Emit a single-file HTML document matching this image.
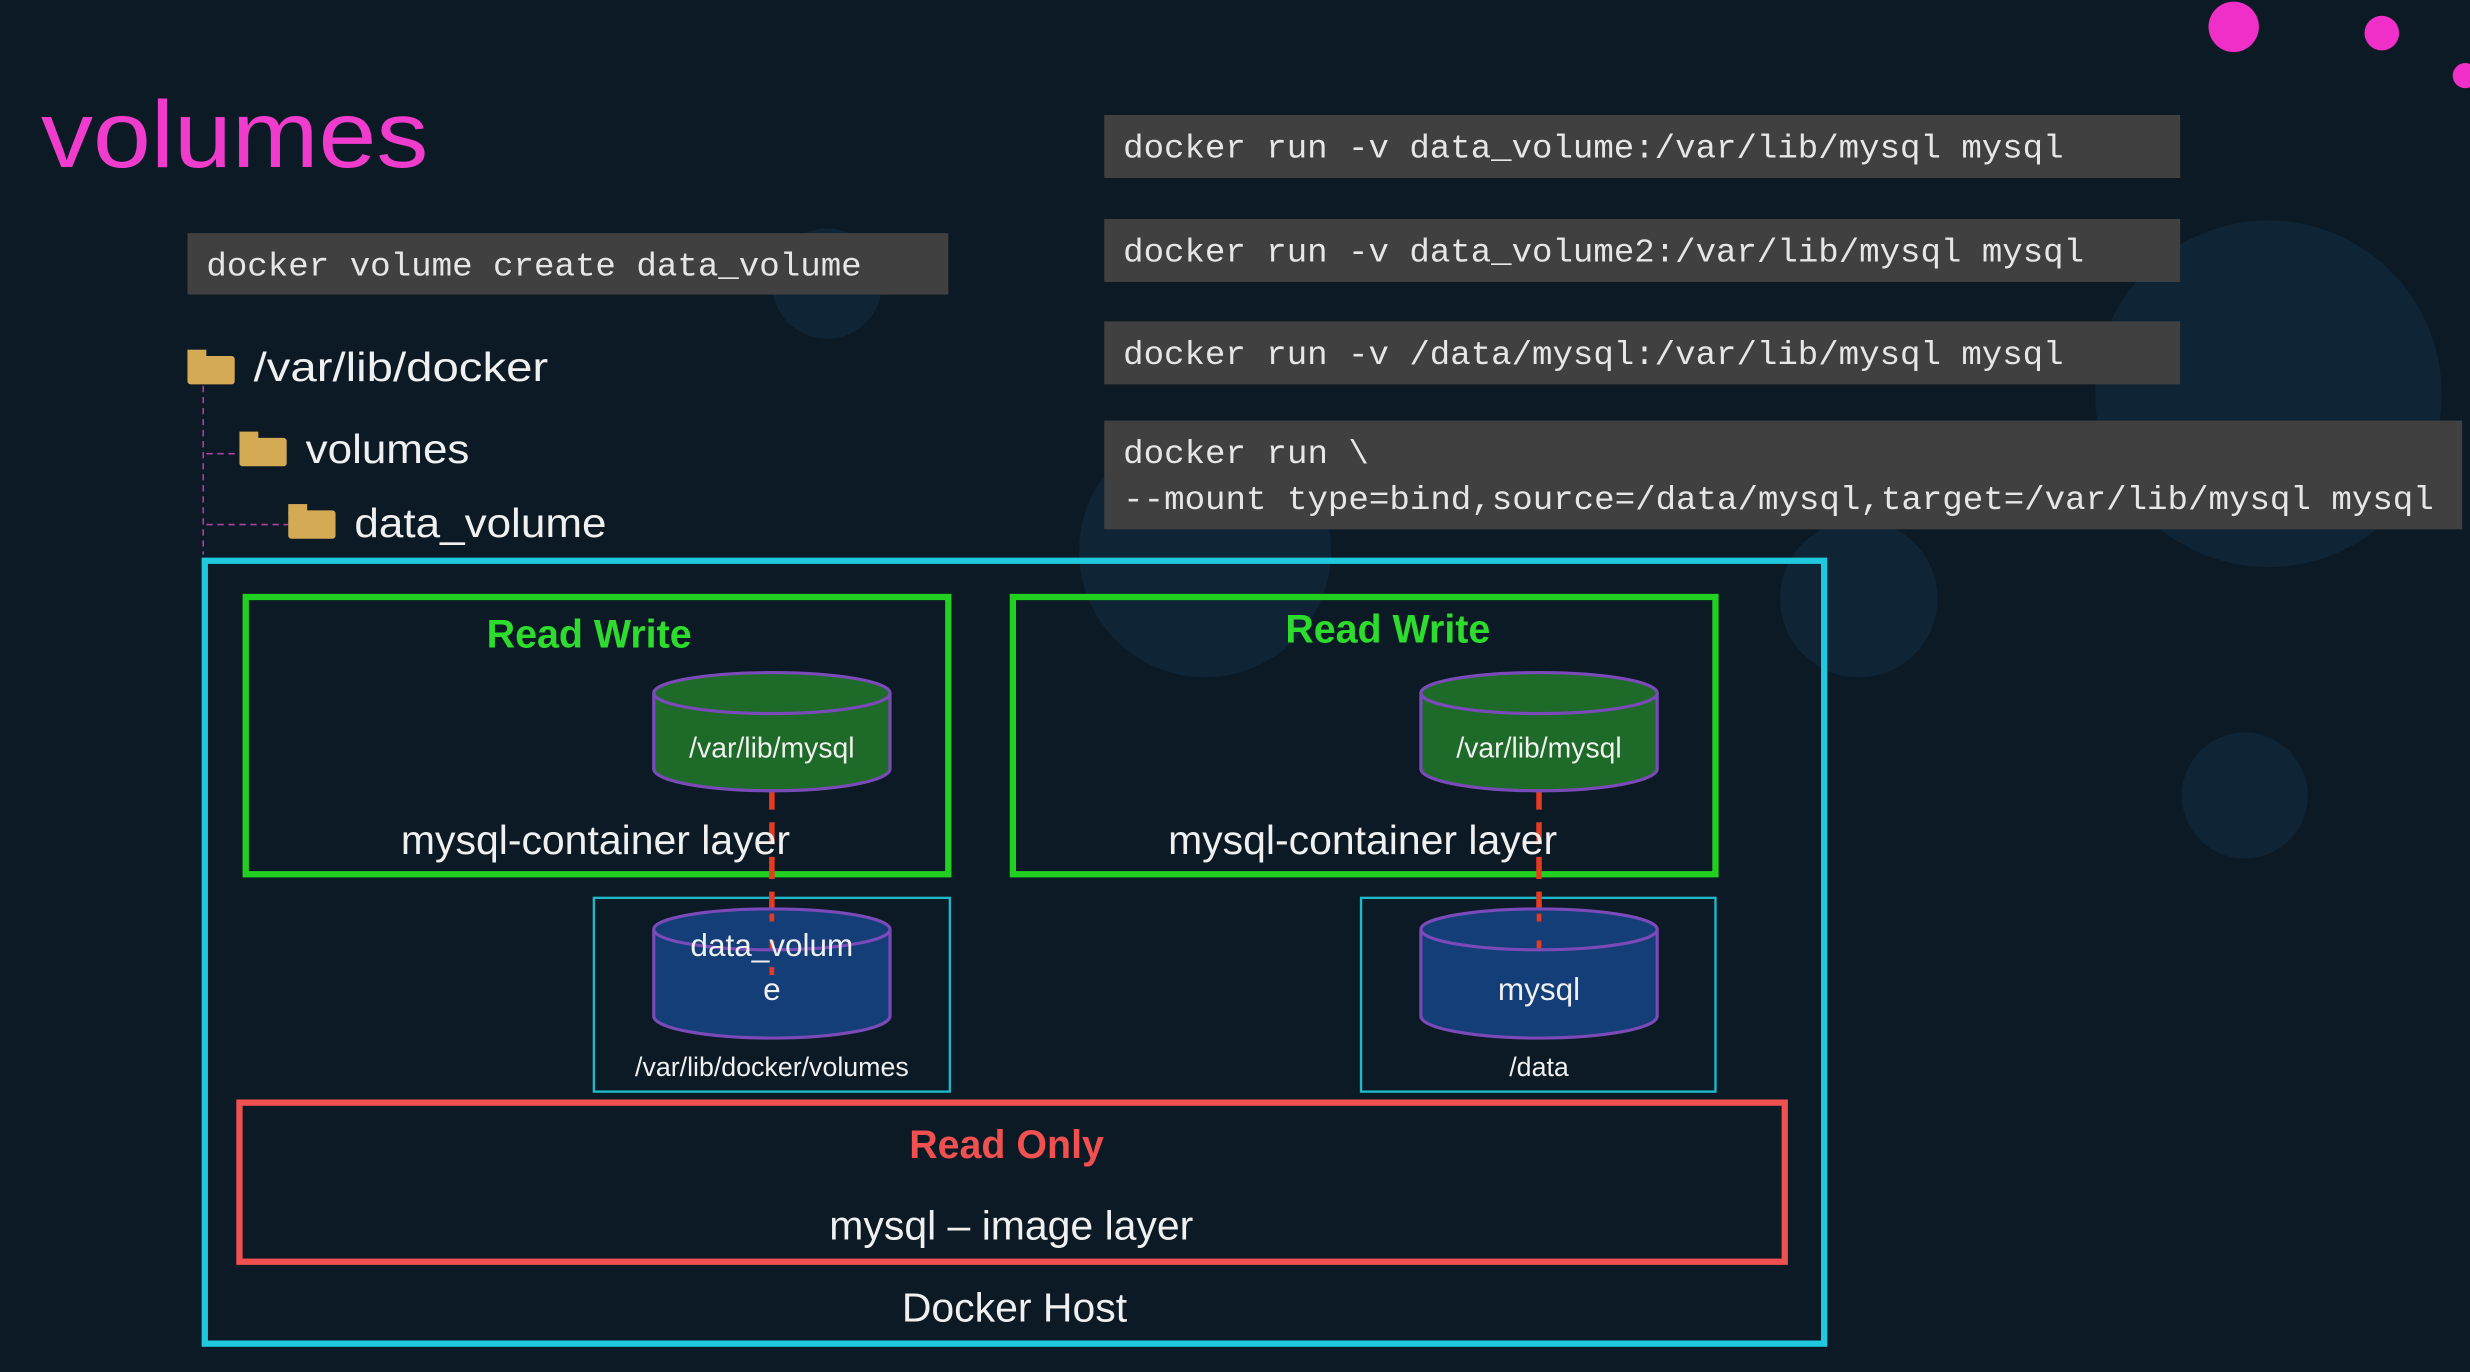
<!DOCTYPE html>
<html><head><meta charset="utf-8"><style>
html,body{margin:0;padding:0;background:#0c1a25;overflow:hidden}
svg{display:block}
.mono{font-family:"Liberation Mono",monospace;font-size:21px;fill:#e6e6e6}
.sans{font-family:"Liberation Sans",sans-serif;fill:#f0f0f0}
</style></head><body>
<svg width="2470" height="1372" viewBox="0 0 1568 871" preserveAspectRatio="none" xmlns="http://www.w3.org/2000/svg">
<rect width="1568" height="871" fill="#0c1a25"/>
<g fill="#143048" opacity="0.45">
<circle cx="765" cy="350" r="80"/><circle cx="1180" cy="380" r="50"/><circle cx="1425" cy="505" r="40"/>
<circle cx="1440" cy="250" r="110"/><circle cx="525" cy="180" r="35"/>
</g>
<circle cx="1418" cy="17" r="16" fill="#f02ec8"/>
<circle cx="1512" cy="21" r="11" fill="#f02ec8"/>
<circle cx="1565" cy="48" r="8" fill="#f02ec8"/>
<text x="26" y="106" class="sans" textLength="246" lengthAdjust="spacingAndGlyphs" style="font-size:60px;fill:#f03ccc">volumes</text>
<rect x="119" y="148" width="483" height="39" fill="#404040"/>
<text x="131" y="175" class="mono" textLength="416" lengthAdjust="spacingAndGlyphs">docker volume create data_volume</text>
<rect x="701" y="73" width="683" height="40" fill="#404040"/>
<text x="713" y="100" class="mono" textLength="597" lengthAdjust="spacingAndGlyphs">docker run -v data_volume:/var/lib/mysql mysql</text>
<rect x="701" y="139" width="683" height="40" fill="#404040"/>
<text x="713" y="166" class="mono" textLength="610" lengthAdjust="spacingAndGlyphs">docker run -v data_volume2:/var/lib/mysql mysql</text>
<rect x="701" y="204" width="683" height="40" fill="#404040"/>
<text x="713" y="231" class="mono" textLength="597" lengthAdjust="spacingAndGlyphs">docker run -v /data/mysql:/var/lib/mysql mysql</text>
<rect x="701" y="267" width="862" height="69" fill="#404040"/>
<text x="713" y="294" class="mono" textLength="156" lengthAdjust="spacingAndGlyphs">docker run \</text>
<text x="713" y="323" class="mono" textLength="832" lengthAdjust="spacingAndGlyphs">--mount type=bind,source=/data/mysql,target=/var/lib/mysql mysql</text>
<path d="M129 245 V352 M131 288 H152 M131 333 H183" stroke="#b040a0" stroke-dasharray="4,3" fill="none"/>
<g fill="#d4aa55"><rect x="119" y="226" width="30" height="18" rx="2"/><rect x="119" y="222" width="12" height="6"/>
<rect x="152" y="278" width="30" height="18" rx="2"/><rect x="152" y="274" width="12" height="6"/>
<rect x="183" y="324" width="30" height="18" rx="2"/><rect x="183" y="320" width="12" height="6"/></g>
<text x="161" y="242" class="sans" textLength="187" lengthAdjust="spacingAndGlyphs" style="font-size:26px">/var/lib/docker</text>
<text x="194" y="294" class="sans" textLength="104" lengthAdjust="spacingAndGlyphs" style="font-size:26px">volumes</text>
<text x="225" y="341" class="sans" textLength="160" lengthAdjust="spacingAndGlyphs" style="font-size:26px">data_volume</text>
<rect x="130" y="356" width="1028" height="497" fill="none" stroke="#1fc8dc" stroke-width="4"/>
<text x="644" y="839" class="sans" text-anchor="middle" style="font-size:26px">Docker Host</text>
<rect x="156" y="379" width="446" height="176" fill="none" stroke="#22d022" stroke-width="4"/>
<rect x="643" y="379" width="446" height="176" fill="none" stroke="#22d022" stroke-width="4"/>
<text x="374" y="411" class="sans" text-anchor="middle" style="font-size:25px;font-weight:bold;fill:#2ddc2d">Read Write</text>
<text x="881" y="408" class="sans" text-anchor="middle" style="font-size:25px;font-weight:bold;fill:#2ddc2d">Read Write</text>
<rect x="377" y="570" width="226" height="123" fill="none" stroke="#1fb8c8" stroke-width="1.5"/>
<rect x="864" y="570" width="225" height="123" fill="none" stroke="#1fb8c8" stroke-width="1.5"/>
<path d="M490 500 V580 M977 500 V610" stroke="#e83a20" stroke-width="3.5" stroke-dasharray="14,8"/>
<g stroke="#7a4ab8" stroke-width="2">
<path d="M415 440 V488 A75 14 0 0 0 565 488 V440" fill="#1e6a28"/><ellipse cx="490" cy="440" rx="75" ry="13" fill="#1e6a28"/>
<path d="M902 440 V488 A75 14 0 0 0 1052 488 V440" fill="#1e6a28"/><ellipse cx="977" cy="440" rx="75" ry="13" fill="#1e6a28"/>
<path d="M415 590 V645 A75 14 0 0 0 565 645 V590" fill="#133e78"/><ellipse cx="490" cy="590" rx="75" ry="13" fill="#133e78"/>
<path d="M902 590 V645 A75 14 0 0 0 1052 645 V590" fill="#133e78"/><ellipse cx="977" cy="590" rx="75" ry="13" fill="#133e78"/>
</g>
<path d="M490 580 V620" stroke="#e83a20" stroke-width="3" stroke-dasharray="5,12"/>
<path d="M977 580 V610" stroke="#e83a20" stroke-width="3" stroke-dasharray="5,12"/>
<g class="sans" text-anchor="middle">
<text x="490" y="481" style="font-size:18px">/var/lib/mysql</text>
<text x="977" y="481" style="font-size:18px">/var/lib/mysql</text>
<text x="378" y="542" style="font-size:26px">mysql-container layer</text>
<text x="865" y="542" style="font-size:26px">mysql-container layer</text>
<text x="490" y="607" style="font-size:20px">data_volum</text>
<text x="490" y="635" style="font-size:20px">e</text>
<text x="977" y="635" style="font-size:20px">mysql</text>
<text x="490" y="683" style="font-size:17px">/var/lib/docker/volumes</text>
<text x="977" y="683" style="font-size:17px">/data</text>
</g>
<rect x="152" y="700" width="981" height="101" fill="none" stroke="#f05050" stroke-width="4"/>
<text x="639" y="735" class="sans" text-anchor="middle" style="font-size:25px;font-weight:bold;fill:#f05050">Read Only</text>
<text x="642" y="787" class="sans" text-anchor="middle" style="font-size:26px">mysql – image layer</text>
</svg>
</body></html>
